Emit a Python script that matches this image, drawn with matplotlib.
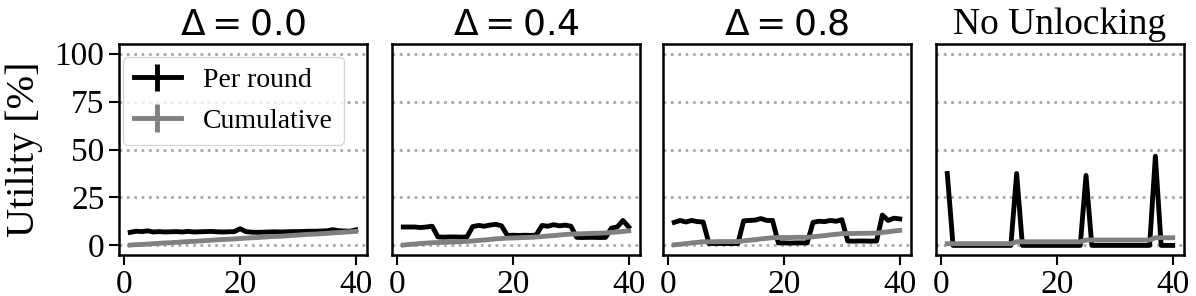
import matplotlib
matplotlib.use("Agg")
import matplotlib.pyplot as plt

plt.rcParams['font.family'] = ['Liberation Serif', 'DejaVu Serif']
plt.rcParams['mathtext.fontset'] = 'dejavusans'

rounds = list(range(1, 41))
titles = [r'$\Delta = 0.0$', r'$\Delta = 0.4$', r'$\Delta = 0.8$', 'No Unlocking']

# per round utility [%]
per_round_00 = [6.8, 7.4, 7.2, 7.6, 7.0, 7.2, 7.0, 7.1, 7.2, 7.0,
                7.3, 7.0, 7.1, 7.2, 7.3, 7.1, 7.0, 7.1, 7.2, 8.7,
                7.2, 6.9, 6.8, 6.9, 7.0, 7.1, 7.0, 7.1, 7.2, 7.2,
                7.3, 7.4, 7.4, 7.5, 7.6, 8.2, 7.7, 7.5, 7.4, 8.1]
per_round_04 = [9.6, 9.6, 9.6, 9.3, 9.6, 10.0, 4.4, 4.3, 4.4, 4.4,
                4.3, 4.4, 9.8, 10.4, 10.0, 10.6, 11.0, 10.2, 5.2, 5.3,
                5.2, 5.3, 5.2, 5.4, 10.4, 10.0, 10.8, 10.2, 10.6, 10.0,
                4.2, 4.1, 4.2, 4.2, 4.1, 4.2, 9.0, 9.6, 13.0, 9.6]
per_round_08 = [12.0, 13.0, 12.2, 13.0, 12.4, 12.2, 1.0, 1.0, 1.0, 1.0,
                1.0, 1.0, 12.8, 13.0, 13.2, 14.0, 13.0, 13.0, 1.3, 1.3,
                1.2, 1.3, 1.3, 1.3, 12.0, 12.6, 12.4, 13.0, 12.6, 13.4,
                2.3, 2.2, 2.3, 2.3, 2.2, 2.3, 15.8, 13.0, 14.2, 13.8]
per_round_nu = [37.5, 0, 0, 0, 0, 0, 0, 0, 0, 0,
                0, 0, 37.5, 0, 0, 0, 0, 0, 0, 0,
                0, 0, 0, 0, 36.5, 0, 0, 0, 0, 0,
                0, 0, 0, 0, 0, 0, 46.5, 0, 0, 0]

# cumulative utility [%]
cumul_00 = [0.2, 0.4, 0.5, 0.7, 0.9, 1.1, 1.3, 1.4, 1.6, 1.8,
            2.0, 2.1, 2.3, 2.5, 2.7, 2.9, 3.1, 3.2, 3.4, 3.6,
            3.8, 4.0, 4.1, 4.3, 4.5, 4.7, 4.8, 5.0, 5.2, 5.4,
            5.6, 5.8, 5.9, 6.1, 6.3, 6.5, 6.7, 6.9, 7.1, 7.3]
cumul_04 = [0.2, 0.5, 0.7, 1.0, 1.2, 1.4, 1.5, 1.6, 1.7, 1.8,
            2.0, 2.1, 2.3, 2.6, 2.8, 3.1, 3.4, 3.6, 3.8, 3.9,
            4.0, 4.1, 4.2, 4.4, 4.6, 4.9, 5.1, 5.4, 5.7, 5.9,
            6.0, 6.1, 6.2, 6.3, 6.4, 6.5, 6.8, 7.0, 7.3, 7.6]
cumul_08 = [0.3, 0.6, 0.9, 1.3, 1.6, 1.9, 1.9, 1.9, 2.0, 2.0,
            2.0, 2.0, 2.4, 2.7, 3.0, 3.4, 3.7, 4.0, 4.1, 4.1,
            4.1, 4.2, 4.2, 4.2, 4.5, 4.8, 5.1, 5.5, 5.8, 6.1,
            6.2, 6.2, 6.3, 6.3, 6.4, 6.4, 6.8, 7.1, 7.5, 7.8]
cumul_nu = [0.9, 0.9, 0.9, 0.9, 0.9, 0.9, 0.9, 0.9, 0.9, 0.9,
            0.9, 0.9, 1.9, 1.9, 1.9, 1.9, 1.9, 1.9, 1.9, 1.9,
            1.9, 1.9, 1.9, 1.9, 2.8, 2.8, 2.8, 2.8, 2.8, 2.8,
            2.8, 2.8, 2.8, 2.8, 2.8, 2.8, 4.0, 4.0, 4.0, 4.0]

per_round = [per_round_00, per_round_04, per_round_08, per_round_nu]
cumul = [cumul_00, cumul_04, cumul_08, cumul_nu]

fig = plt.figure(figsize=(11.96, 2.96), dpi=100)
lefts = [119, 392, 663, 936]
W, H = 1196, 296
for i in range(4):
    ax = fig.add_axes([lefts[i] / W, (H - 255) / H, 248 / W, 211 / H])
    ax.errorbar(rounds, per_round[i], yerr=0, color='black', lw=3.5, label='Per round')
    ax.errorbar(rounds, cumul[i], yerr=0, color='gray', lw=3.5, label='Cumulative')
    ax.set_ylim(-5, 105)
    ax.set_yticks([0, 25, 50, 75, 100])
    ax.set_xticks([0, 20, 40])
    ax.grid(axis='y', linestyle=':', color='darkgray', lw=2)
    ax.tick_params(labelsize=24, length=7, width=1.5)
    for s in ax.spines.values():
        s.set_linewidth(1.8)
    if i == 0:
        ax.set_ylabel('Utility [%]', fontsize=29, labelpad=8)
        ax.legend(loc='upper left', bbox_to_anchor=(0.015, 0.94), borderaxespad=0,
                  fontsize=20, handlelength=1.7, handletextpad=0.8, labelspacing=0.55)
    else:
        ax.tick_params(axis='y', left=False, labelleft=False)
    if i < 3:
        ax.set_title(titles[i], fontsize=26, pad=7)
    else:
        ax.set_title(titles[i], fontsize=27, pad=7)

fig.savefig('out.png', dpi=100)
